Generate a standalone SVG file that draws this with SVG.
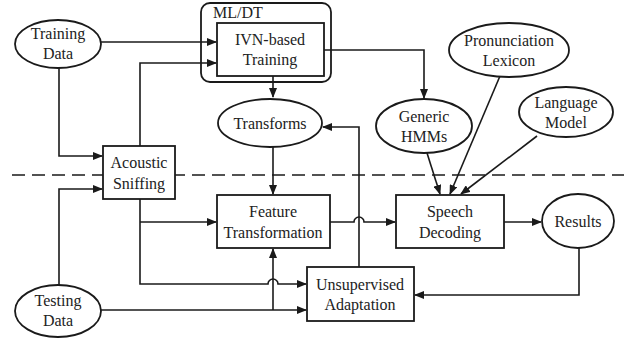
<svg xmlns="http://www.w3.org/2000/svg" width="637" height="343" viewBox="0 0 637 343">
  <defs>
    <marker id="arr" markerWidth="10" markerHeight="8" refX="9" refY="4" orient="auto" markerUnits="userSpaceOnUse">
      <path d="M0,0 L10,4 L0,8 Z" fill="#1a1a1a"/>
    </marker>
  </defs>
  <style>
    .n { fill: #fff; stroke: #1a1a1a; stroke-width: 1.8; }
    .frame { fill: none; stroke: #1a1a1a; stroke-width: 1.8; }
    .c { fill: none; stroke: #1a1a1a; stroke-width: 1.6; }
    .a { marker-end: url(#arr); }
    text { font-family: 'Liberation Serif', 'Times New Roman', serif; font-size: 16px; fill: #222; text-anchor: middle; }
  </style>
  <rect width="637" height="343" fill="#fff"/>

  <!-- training / testing separator -->
  <line x1="12" y1="175" x2="624" y2="175" stroke="#1a1a1a" stroke-width="1.6" stroke-dasharray="13,7"/>

  <g id="connectors">
    <path class="c a" d="M101,42 H216"/>
    <path class="c a" d="M140,146 V63 H216"/>
    <path class="c a" d="M59,68 V156 H102"/>
    <path class="c a" d="M273,76 V97"/>
    <path class="c a" d="M324,50 H424 V98"/>
    <path class="c a" d="M273,146 V194"/>
    <path class="c a" d="M359,267 V127 H323"/>
    <path class="c a" d="M427,153 L440,194"/>
    <path class="c a" d="M500,76 L450,194"/>
    <path class="c a" d="M537,136 L461,194"/>
    <path class="c a" d="M330,222 H354 A5,5 0 0 1 364,222 H395"/>
    <path class="c a" d="M504,222 H541"/>
    <path class="c a" d="M579,248 V295 H415"/>
    <path class="c a" d="M59,285 V189 H102"/>
    <path class="c a" d="M140,199 V284 H268 A5,5 0 0 1 278,284 H306"/>
    <path class="c a" d="M140,222 H216"/>
    <path class="c a" d="M101,310 H306"/>
    <path class="c a" d="M273,310 V249"/>
  </g>

  <g id="training-data">
    <ellipse class="n" cx="58" cy="44" rx="43" ry="24"/>
    <text x="58" y="39">Training</text>
    <text x="58" y="59">Data</text>
  </g>

  <g id="ml-dt">
    <rect class="frame" x="201" y="3" width="130" height="79" rx="9"/>
    <text x="238" y="18">ML/DT</text>
  </g>

  <g id="ivn-training">
    <rect class="n" x="217" y="23" width="107" height="53"/>
    <text x="270" y="45">IVN-based</text>
    <text x="270" y="65">Training</text>
  </g>

  <g id="transforms">
    <ellipse class="n" cx="270" cy="123" rx="52" ry="24"/>
    <text x="270" y="129">Transforms</text>
  </g>

  <g id="generic-hmms">
    <ellipse class="n" cx="424" cy="126" rx="48" ry="27"/>
    <text x="424" y="122">Generic</text>
    <text x="424" y="142">HMMs</text>
  </g>

  <g id="pronunciation-lexicon">
    <ellipse class="n" cx="509" cy="50" rx="60" ry="27"/>
    <text x="509" y="46">Pronunciation</text>
    <text x="509" y="66">Lexicon</text>
  </g>

  <g id="language-model">
    <ellipse class="n" cx="566" cy="112" rx="47" ry="25"/>
    <text x="566" y="108">Language</text>
    <text x="566" y="128">Model</text>
  </g>

  <g id="acoustic-sniffing">
    <rect class="n" x="103" y="146" width="72" height="53"/>
    <text x="139" y="168">Acoustic</text>
    <text x="139" y="189">Sniffing</text>
  </g>

  <g id="feature-transformation">
    <rect class="n" x="217" y="195" width="113" height="53"/>
    <text x="273" y="217">Feature</text>
    <text x="273" y="238">Transformation</text>
  </g>

  <g id="speech-decoding">
    <rect class="n" x="396" y="195" width="108" height="53"/>
    <text x="450" y="217">Speech</text>
    <text x="450" y="238">Decoding</text>
  </g>

  <g id="results">
    <ellipse class="n" cx="578" cy="221" rx="36" ry="27"/>
    <text x="578" y="227">Results</text>
  </g>

  <g id="unsupervised-adaptation">
    <rect class="n" x="307" y="267" width="107" height="54"/>
    <text x="360" y="290">Unsupervised</text>
    <text x="360" y="310">Adaptation</text>
  </g>

  <g id="testing-data">
    <ellipse class="n" cx="58" cy="311" rx="43" ry="26"/>
    <text x="58" y="306">Testing</text>
    <text x="58" y="326">Data</text>
  </g>
</svg>
